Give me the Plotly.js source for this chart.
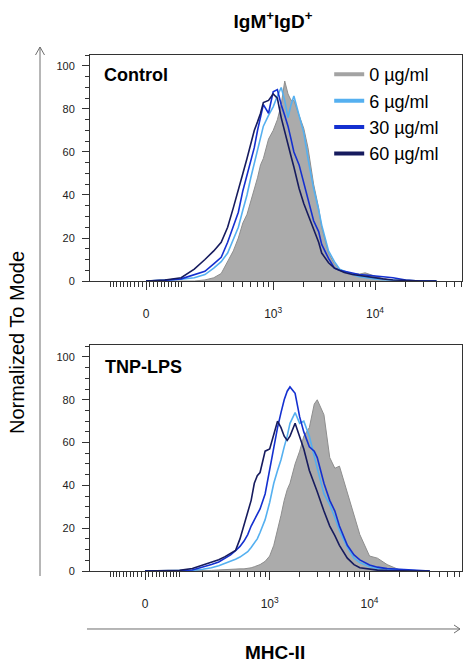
<!DOCTYPE html>
<html><head><meta charset="utf-8">
<script src="https://cdn.plot.ly/plotly-3.0.1.min.js"></script>
<style>html,body{margin:0;padding:0;background:#fff}#chart{width:464px;height:662px}</style>
</head><body><div id="chart"></div>
<script>
// MHC-II fluorescence bin centres (shared by all histograms)
const bins = [0,50,100,150,200,250,300,350,400,450,500,550,600,650,700,750,800,
  900,1000,1100,1200,1300,1400,1500,1600,
  1800,2000,2200, 2500,2800,3000, 3500,4000,4500,5000,
  6000,7000,8000, 10000,12000,15000, 20000,25000,30000,40000];

const concLabels = ['0 µg/ml','6 µg/ml','30 µg/ml','60 µg/ml'];
const panelLabels = ['Control','TNP-LPS'];

// Control panel (normalized to mode, %)
const control0  = [0,0,0,0,0.5,1.5,3.5,9,14,20,27,31,37,42,48,54,57, 66,70,75,82,93,87,84,84, 77,71,62, 45,34,25, 13,8,5.5,4.5, 3.5,3.2,3.8, 2.2,1,0.3, 0,0,0,0];
const control6  = [0,0.3,0.8,1.5,3,6,9,13,19,25,33,40,48,55,61,67,72, 77,81,86,90,84,76,82,86, 77,69,57, 43,33,26, 14,9,5.5,4.5, 3,2,1.5, 1,0.6,0.4, 0.2,0,0,0];
const control30 = [0,0.3,1,2.8,4.5,8,11,18,25,32,42,49,56,62,70,77,82, 78,88,89,82,77,72,66,60, 54,46,39, 28,23,17, 10.5,6,5,4.5, 3.5,3,2.8, 2.5,2,1.5, 0.5,0.1,0,0];
const control60 = [0,0.5,1.5,5.5,10,14,18,25,34,42,50,57,64,70,74,78,83, 84,87,85,76,70,64,58,53, 43,36,31, 24,18,13, 8.5,6,4.8,4, 3,2.5,2, 1.5,1,0.5, 0.2,0,0,0];

// TNP-LPS panel
const tnp0  = [0,0,0,0,0,0.3,0.5,0.7,1,1,1,1,1.2,1.5,2,2.5,3, 4.5,7,12,19,26,33,38,41, 50,56,63, 67,78,80, 73,53,48,49, 37,26,17, 7,6,3, 0.5,0,0,0];
const tnp6  = [0,0,0,0.3,0.8,1.5,2.5,3.5,4.5,5.5,6.5,8,9,11,13,15,18, 24,32,41,47,52,58,63,69, 74,69,70, 63,53,48, 36,31,25,19, 11,6,4, 2,1.2,0.9, 0.6,0.4,0.1,0];
const tnp30 = [0,0,0.1,0.5,1.8,3,4.2,6,7.5,9.5,11.5,14,17,21,24,26.5,29, 36,48,58,67,74,80,84,86, 83,72,65, 58,56,53, 41,33,28,21, 12,7.5,5.2, 2.8,1.8,1.1, 0.8,0.5,0.3,0];
const tnp60 = [0,0,0.3,1.2,2.8,4,5.3,6.7,8.2,9.6,15,22,27.5,33,41,44.5,46, 56,57,64.5,70,67,63,61,63, 69,63,57, 47,41,37, 28,21,16.5,12, 6,3,1.5, 0.8,0.4,0.2, 0,0,0,0];

const xTickValues = [0, 1000, 10000];
const xTickLabels = ['0', '10<sup>3</sup>', '10<sup>4</sup>'];
const yTickValues = [0, 20, 40, 60, 80, 100];
const yTickLabels = ['0', '20', '40', '60', '80', '100'];

// biexponential-like display transform of the MHC-II axis
const COF = 113.7;
function T(v){ return Math.asinh(v / COF) / Math.LN10; }

const minorVals = [T(100), T(-100)];
for (const m of [1,2,3,4,5,6,7,8,9]) { minorVals.push(T(-10*m)); minorVals.push(T(10*m)); }
for (const d of [100,1000,10000]) for (const m of [2,3,4,5,6,7,8,9]) minorVals.push(T(d*m));

const colors = ['#a3a3a3', '#55b0f0', '#1430d0', '#161b5e'];
const fillColor = '#ababab';
const xs = bins.map(T);

const traces = [];
// legend-only entries
concLabels.forEach((name, i) => traces.push({
  x: [null], y: [null], mode: 'lines', name: name, xaxis: 'x', yaxis: 'y',
  line: {color: colors[i], width: 4}, hoverinfo: 'skip'
}));
function panel(series, xa, ya) {
  traces.push({x: xs, y: series[0], mode: 'lines', fill: 'tozeroy', fillcolor: fillColor,
    line: {color: '#8e8e8e', width: 1}, showlegend: false, xaxis: xa, yaxis: ya, hoverinfo: 'skip'});
  for (let i = 1; i < 4; i++) traces.push({x: xs, y: series[i], mode: 'lines',
    line: {color: colors[i], width: 1.6}, showlegend: false, xaxis: xa, yaxis: ya, hoverinfo: 'skip'});
}
panel([control0, control6, control30, control60], 'x', 'y');
panel([tnp0, tnp6, tnp30, tnp60], 'x2', 'y2');

const axCol = '#333';
function xAxis(anchor, range) {
  return {anchor: anchor, domain: [0, 1], range: range, showline: true, linecolor: axCol, linewidth: 1,
    mirror: true, ticks: 'outside', ticklen: 8, tickcolor: axCol, tickwidth: 1,
    tickmode: 'array', tickvals: xTickValues.map(T), ticktext: xTickLabels,
    tickfont: {size: 12, color: '#222'}, ticklabelstandoff: 14,
    showgrid: false, zeroline: false, fixedrange: true,
    minor: {tickmode: 'array', tickvals: minorVals, ticks: 'outside', ticklen: 5, tickcolor: axCol, tickwidth: 1, showgrid: false}};
}
function yAxis(anchor, domain, range) {
  return {anchor: anchor, domain: domain, range: range, showline: true, linecolor: axCol, linewidth: 1,
    mirror: true, ticks: 'outside', ticklen: 7, tickcolor: axCol,
    tickmode: 'array', tickvals: yTickValues, ticktext: yTickLabels,
    tickfont: {size: 11, color: '#222'}, ticklabelstandoff: 5,
    showgrid: false, zeroline: false, fixedrange: true,
    minor: {dtick: 5, ticks: 'outside', ticklen: 4, tickcolor: axCol, showgrid: false}};
}

const gcol = '#6e6e6e';
const layout = {
  width: 464, height: 662,
  margin: {l: 90, r: 2, t: 55, b: 91},
  paper_bgcolor: '#fff', plot_bgcolor: '#fff',
  font: {family: '"Liberation Sans", Arial, sans-serif', color: '#000'},
  title: {text: '<b>IgM<sup>+</sup>IgD<sup>+</sup></b>', font: {size: 19, color: '#000'},
    x: 0.492, xref: 'paper', xanchor: 'center', y: 1 - 21/662, yref: 'container', yanchor: 'middle'},
  showlegend: true,
  legend: {x: 0.643, y: 0.998, xanchor: 'left', yanchor: 'top', bgcolor: 'rgba(0,0,0,0)',
    font: {size: 18, color: '#000'}, itemwidth: 30, borderwidth: 0},
  xaxis: xAxis('y', [-0.549, 3.098]),
  yaxis: yAxis('x', [0.562, 1], [0, 105.1]),
  xaxis2: xAxis('y2', [-0.55, 3.17]),
  yaxis2: yAxis('x2', [0, 0.438], [0, 105.6]),
  annotations: [
    {text: 'Normalized To Mode', xref: 'paper', yref: 'paper', x: -0.196, y: 0.442, textangle: -90,
      showarrow: false, font: {size: 20, color: '#000'}, xanchor: 'center', yanchor: 'middle'},
    {text: '<b>MHC-II</b>', xref: 'paper', yref: 'paper', x: 0.497, y: -0.157,
      showarrow: false, font: {size: 19, color: '#000'}, xanchor: 'center', yanchor: 'middle'},
    {text: '<b>' + panelLabels[0] + '</b>', xref: 'paper', yref: 'paper', x: 0.032, y: 0.961,
      showarrow: false, font: {size: 18, color: '#000'}, xanchor: 'left', yanchor: 'middle'},
    {text: '<b>' + panelLabels[1] + '</b>', xref: 'paper', yref: 'paper', x: 0.034, y: 0.395,
      showarrow: false, font: {size: 18, color: '#000'}, xanchor: 'left', yanchor: 'middle'}
  ],
  shapes: [
    {type: 'line', xref: 'paper', yref: 'paper', x0: -0.1344, x1: -0.1344, y0: 1.0155, y1: -0.0097, line: {color: gcol, width: 1}},
    {type: 'line', xref: 'paper', yref: 'paper', x0: -0.1344, y0: 1.0155, x1: -0.1465, y1: 1.0, line: {color: gcol, width: 1}},
    {type: 'line', xref: 'paper', yref: 'paper', x0: -0.1344, y0: 1.0155, x1: -0.1223, y1: 1.0, line: {color: gcol, width: 1}},
    {type: 'line', xref: 'paper', yref: 'paper', x0: -0.0081, x1: 0.9946, y0: -0.1124, y1: -0.1124, line: {color: gcol, width: 1}},
    {type: 'line', xref: 'paper', yref: 'paper', x0: 0.9946, y0: -0.1124, x1: 0.9785, y1: -0.1047, line: {color: gcol, width: 1}},
    {type: 'line', xref: 'paper', yref: 'paper', x0: 0.9946, y0: -0.1124, x1: 0.9785, y1: -0.1202, line: {color: gcol, width: 1}}
  ]
};

Plotly.newPlot('chart', traces, layout, {staticPlot: true, displayModeBar: false});
</script>
</body></html>
